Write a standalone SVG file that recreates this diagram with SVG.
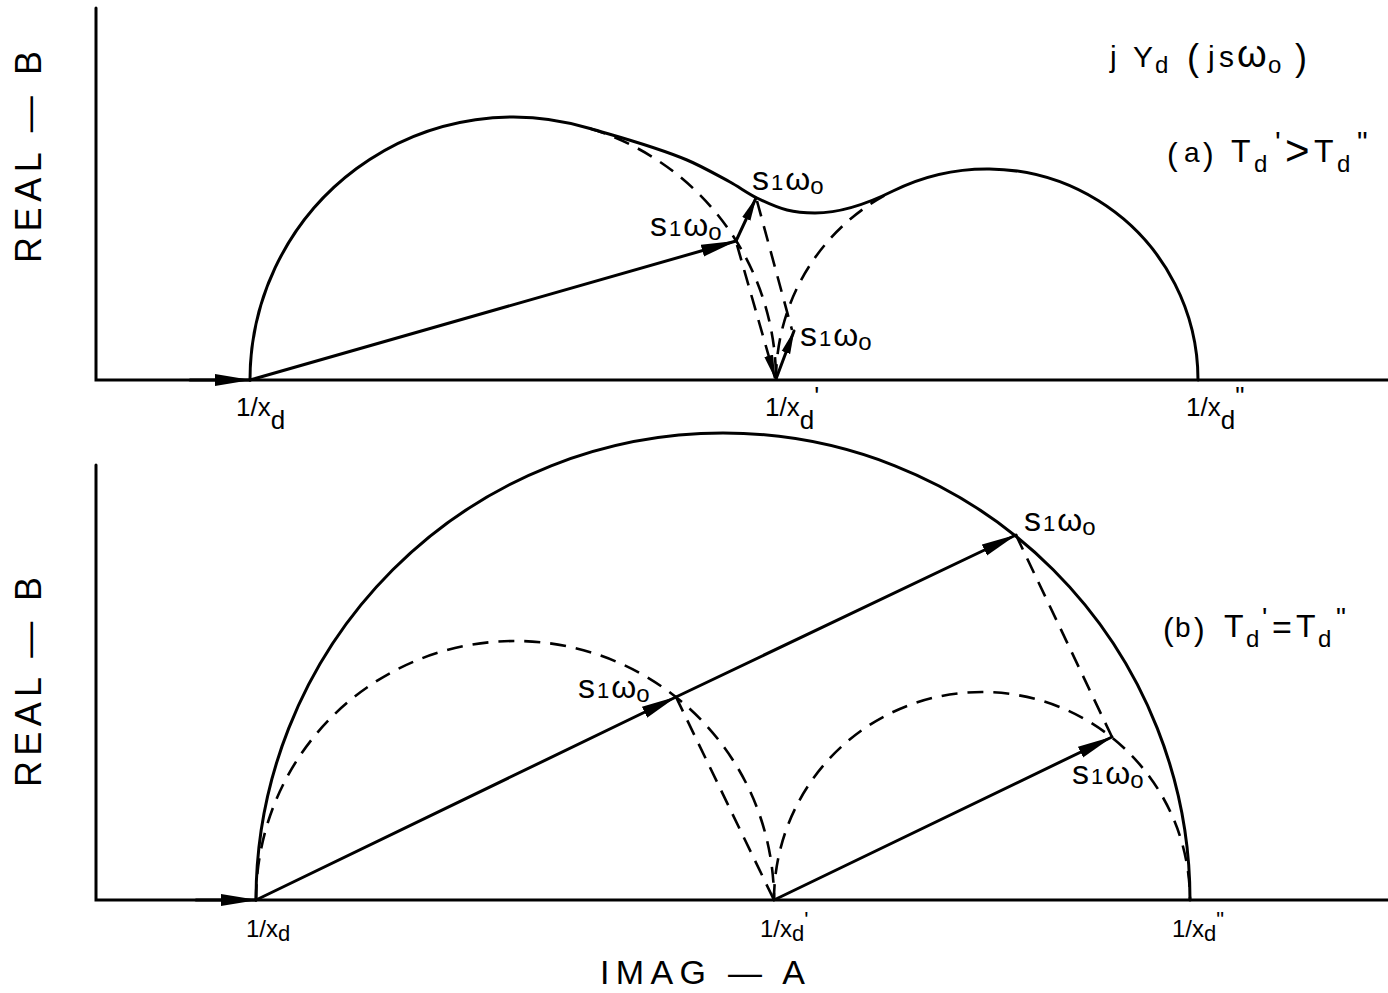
<svg xmlns="http://www.w3.org/2000/svg" width="1388" height="993" viewBox="0 0 1388 993">
<defs>
<style>
.s{fill:none;stroke:#000;stroke-width:3;stroke-linecap:round}
.d{fill:none;stroke:#000;stroke-width:2.6;stroke-dasharray:16 10}
.t{font-family:"Liberation Sans",Arial,sans-serif;fill:#000}
</style>
<marker id="big" viewBox="0 0 36 14" refX="35" refY="7" markerWidth="36" markerHeight="14" markerUnits="userSpaceOnUse" orient="auto"><path d="M0,1 L36,7 L0,13 Z"/></marker>
<marker id="sm" viewBox="0 0 24 10" refX="23" refY="5" markerWidth="24" markerHeight="10" markerUnits="userSpaceOnUse" orient="auto"><path d="M0,0.5 L24,5 L0,9.5 Z"/></marker>
</defs>
<rect width="1388" height="993" fill="#fff"/>

<g id="axes">
<path class="s" d="M96,8 V380 H1388"/>
<path class="s" d="M96,465 V900 H1388"/>
</g>

<g id="connectors">
<line class="s" x1="190" y1="380" x2="250" y2="380" marker-end="url(#big)"/>
<path class="s" d="M250,380 A263,263 0 0 1 590,128.5 C622.3,138 654.7,146.4 687,160 C701.3,166 715.7,174.3 730,182 C739,186.9 748,193.6 757,198 C767,202.9 777,207.4 787,210 C796.3,212.4 805.7,213 815,213 C841,213 867,203.9 893,191 A211,211 0 0 1 1198,380"/>
<path class="d" d="M590,128.5 A263,263 0 0 1 776,380"/>
<path class="d" d="M776,380 A211,211 0 0 1 893,191"/>
<line class="s" x1="250" y1="380" x2="736" y2="241" marker-end="url(#big)"/>
<line class="s" x1="736" y1="241" x2="756" y2="198" marker-end="url(#sm)"/>
<line class="d" x1="737" y1="245" x2="775" y2="378" marker-end="url(#sm)"/>
<line class="d" x1="757" y1="201" x2="792" y2="330"/>
<line class="s" x1="776" y1="379" x2="794" y2="331" marker-end="url(#sm)"/>
<line class="s" x1="196" y1="900" x2="256" y2="900" marker-end="url(#big)"/>
<path class="s" d="M256,900 A467,467 0 0 1 1190,900"/>
<path class="d" d="M256,900 A259,259 0 0 1 774,900"/>
<path class="d" d="M774,900 A208,208 0 0 1 1190,900"/>
<line class="s" x1="256" y1="900" x2="676" y2="697" marker-end="url(#big)"/>
<line class="s" x1="676" y1="697" x2="1016" y2="535" marker-end="url(#big)"/>
<line class="s" x1="774" y1="900" x2="1112" y2="737" marker-end="url(#big)"/>
<line class="d" x1="1016" y1="535" x2="1112" y2="737"/>
<line class="d" x1="676" y1="697" x2="774" y2="900"/>
</g>

<g id="axis-labels" class="t">
<text transform="translate(41,157) rotate(-90)" text-anchor="middle" font-size="36" textLength="212" lengthAdjust="spacing">REAL — B</text>
<text transform="translate(41,682) rotate(-90)" text-anchor="middle" font-size="36" textLength="210" lengthAdjust="spacing">REAL — B</text>
<text x="600" y="984" font-size="34" textLength="205" lengthAdjust="spacing">IMAG — A</text>
</g>

<g id="title" class="t">
<text font-size="30"><tspan x="1110" y="67">j</tspan><tspan x="1133" y="67">Y</tspan><tspan x="1155" y="73" font-size="24">d</tspan><tspan x="1187" y="70" font-size="36">(</tspan><tspan x="1208" y="67">j</tspan><tspan x="1219" y="67">s</tspan><tspan x="1237" y="67" font-size="38">ω</tspan><tspan x="1268" y="73" font-size="24">o</tspan><tspan x="1295" y="70" font-size="36">)</tspan></text>
</g>

<g id="case-a" class="t">
<text font-size="32"><tspan x="1167" y="165">(</tspan><tspan x="1184" y="162" font-size="28">a</tspan><tspan x="1203" y="165">)</tspan><tspan x="1231" y="162">T</tspan><tspan x="1254" y="172" font-size="24">d</tspan><tspan x="1275" y="152" font-size="30">'</tspan><tspan x="1285" y="165" font-size="42">&gt;</tspan><tspan x="1314" y="162">T</tspan><tspan x="1337" y="172" font-size="24">d</tspan><tspan x="1357" y="152" font-size="30">"</tspan></text>
</g>

<g id="case-b" class="t">
<text font-size="32"><tspan x="1163" y="640">(</tspan><tspan x="1175" y="637" font-size="28">b</tspan><tspan x="1194" y="640">)</tspan><tspan x="1224" y="637">T</tspan><tspan x="1246" y="647" font-size="24">d</tspan><tspan x="1262" y="627" font-size="28">'</tspan><tspan x="1272" y="639" font-size="34">=</tspan><tspan x="1296" y="637">T</tspan><tspan x="1318" y="647" font-size="24">d</tspan><tspan x="1336" y="627" font-size="28">"</tspan></text>
</g>

<g id="ticks-top" class="t">
<text x="236" y="416" font-size="26">1/x<tspan dy="13">d</tspan></text>
<text x="765" y="416" font-size="26">1/x<tspan dy="13">d</tspan><tspan dy="-24">'</tspan></text>
<text x="1186" y="416" font-size="26">1/x<tspan dy="13">d</tspan><tspan dy="-24">"</tspan></text>
</g>

<g id="ticks-bottom" class="t">
<text x="246" y="937" font-size="24">1/x<tspan dy="4" font-size="22">d</tspan></text>
<text x="760" y="937" font-size="24">1/x<tspan dy="4" font-size="22">d</tspan><tspan dy="-14" font-size="22">'</tspan></text>
<text x="1172" y="937" font-size="24">1/x<tspan dy="4" font-size="22">d</tspan><tspan dy="-14" font-size="22">"</tspan></text>
</g>

<g id="s-labels" class="t">
<text x="752" y="190"><tspan font-size="34">s</tspan><tspan font-size="22" dx="2">1</tspan><tspan font-size="32" dx="2">ω</tspan><tspan font-size="24" dy="4">o</tspan></text>
<text x="650" y="236"><tspan font-size="34">s</tspan><tspan font-size="22" dx="2">1</tspan><tspan font-size="32" dx="2">ω</tspan><tspan font-size="24" dy="4">o</tspan></text>
<text x="800" y="346"><tspan font-size="34">s</tspan><tspan font-size="22" dx="2">1</tspan><tspan font-size="32" dx="2">ω</tspan><tspan font-size="24" dy="4">o</tspan></text>
<text x="1024" y="531"><tspan font-size="34">s</tspan><tspan font-size="22" dx="2">1</tspan><tspan font-size="32" dx="2">ω</tspan><tspan font-size="24" dy="4">o</tspan></text>
<text x="578" y="698"><tspan font-size="34">s</tspan><tspan font-size="22" dx="2">1</tspan><tspan font-size="32" dx="2">ω</tspan><tspan font-size="24" dy="4">o</tspan></text>
<text x="1072" y="784"><tspan font-size="34">s</tspan><tspan font-size="22" dx="2">1</tspan><tspan font-size="32" dx="2">ω</tspan><tspan font-size="24" dy="4">o</tspan></text>
</g>
</svg>
